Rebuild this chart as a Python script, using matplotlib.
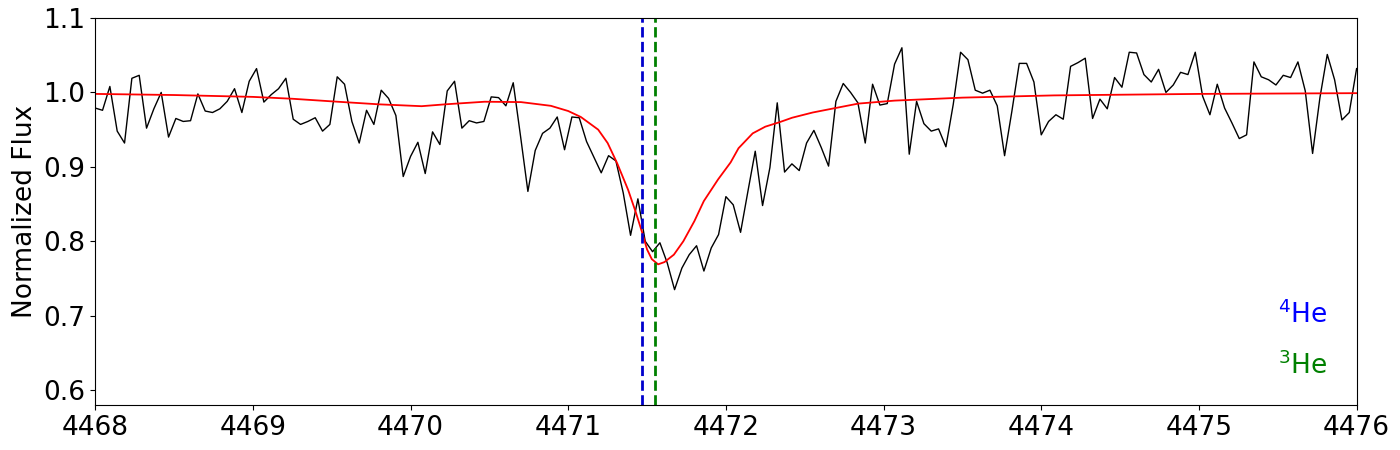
#!/usr/bin/env python3
import numpy as np
import matplotlib

matplotlib.use('Agg')
import matplotlib.pyplot as plt

flux = [0.979, 0.976, 1.008, 0.948, 0.932, 1.019, 1.023, 0.952, 0.978, 1.000,
        0.940, 0.965, 0.961, 0.962, 0.998, 0.975, 0.973, 0.978, 0.988, 1.005,
        0.973, 1.015, 1.032,
        0.987, 0.997, 1.005, 1.019, 0.964, 0.957, 0.961, 0.966, 0.948, 0.957,
        1.021, 1.011, 0.961, 0.932, 0.976, 0.957, 1.003, 0.992, 0.969, 0.887,
        0.914, 0.933,
        0.891, 0.947, 0.930, 1.002, 1.015, 0.952, 0.962, 0.959, 0.961, 0.994,
        0.993, 0.982, 1.013, 0.941, 0.867, 0.922, 0.945, 0.952, 0.967, 0.923,
        0.967, 0.966,
        0.934, 0.913, 0.892, 0.915, 0.908, 0.865, 0.808, 0.857, 0.800, 0.786,
        0.798, 0.771, 0.735, 0.764, 0.782, 0.794, 0.760, 0.791, 0.809, 0.860,
        0.849,
        0.812, 0.867, 0.921, 0.848, 0.899, 0.986, 0.893, 0.904, 0.895, 0.932,
        0.949, 0.926, 0.901, 0.988, 1.012, 1.000, 0.986, 0.932, 1.011, 0.983,
        0.985,
        1.038, 1.060, 0.917, 0.988, 0.958, 0.948, 0.951, 0.927, 0.984, 1.054,
        1.044, 1.003, 0.999, 1.003, 0.982, 0.915, 0.975, 1.039, 1.039, 1.014,
        0.943, 0.961, 0.970,
        0.964, 1.035, 1.040, 1.046, 0.965, 0.991, 0.978, 1.020, 1.007, 1.054,
        1.053, 1.024, 1.014, 1.031, 1.000, 1.010, 1.027, 1.024, 1.054, 0.995,
        0.970, 1.011, 0.979, 0.959, 0.938, 0.943, 1.041, 1.021, 1.017, 1.010,
        1.023, 1.020, 1.041, 1.002, 0.918, 0.993, 1.051, 1.017, 0.963, 0.973,
        1.032]
wave = np.linspace(4468.0, 4476.0, len(flux))

# model profile
model_wave = [4468.0, 4468.5, 4469.0, 4469.25, 4469.5, 4469.8, 4470.07, 4470.22,
              4470.47, 4470.7, 4470.89, 4471.0, 4471.08, 4471.19, 4471.25,
              4471.31, 4471.38, 4471.43, 4471.47, 4471.5, 4471.53, 4471.57,
              4471.61, 4471.67, 4471.73, 4471.8, 4471.86, 4471.95, 4472.03,
              4472.08, 4472.17, 4472.25, 4472.34, 4472.42, 4472.55, 4472.67,
              4472.84, 4473.07, 4473.5, 4474.08, 4475.0, 4476.0]
model_flux = [0.998, 0.9965, 0.994, 0.9915, 0.988, 0.984, 0.9815, 0.984,
              0.9875, 0.987, 0.982, 0.975, 0.967, 0.950, 0.932,
              0.905, 0.869, 0.838, 0.811, 0.789, 0.776, 0.769,
              0.772, 0.782, 0.800, 0.827, 0.854, 0.883, 0.906,
              0.925, 0.945, 0.954, 0.960, 0.966, 0.973, 0.978,
              0.985, 0.989, 0.993, 0.996, 0.998, 0.999]

he4_line = 4471.47
he3_line = 4471.55

fig = plt.figure(figsize=(14, 4.5), dpi=100)
ax = fig.add_axes([0.068, 0.10, 0.901, 0.86])

ax.plot(wave, flux, color='black', lw=1.0)
ax.plot(model_wave, model_flux, color='red', lw=1.3)
ax.axvline(he4_line, color='#0000cc', ls='--', lw=2)
ax.axvline(he3_line, color='green', ls='--', lw=2)

ax.text(4475.5, 0.69, r'$^4$He', color='blue', fontsize=19, ha='left', va='baseline')
ax.text(4475.5, 0.622, r'$^3$He', color='green', fontsize=19, ha='left', va='baseline')

ax.set_xlim(4468, 4476)
ax.set_ylim(0.58, 1.1)
ax.set_xticks(range(4468, 4477))
ax.set_yticks([0.6, 0.7, 0.8, 0.9, 1.0, 1.1])
ax.tick_params(labelsize=19)
ax.set_ylabel('Normalized Flux', fontsize=19)

fig.savefig('out.png')
plt.close()
